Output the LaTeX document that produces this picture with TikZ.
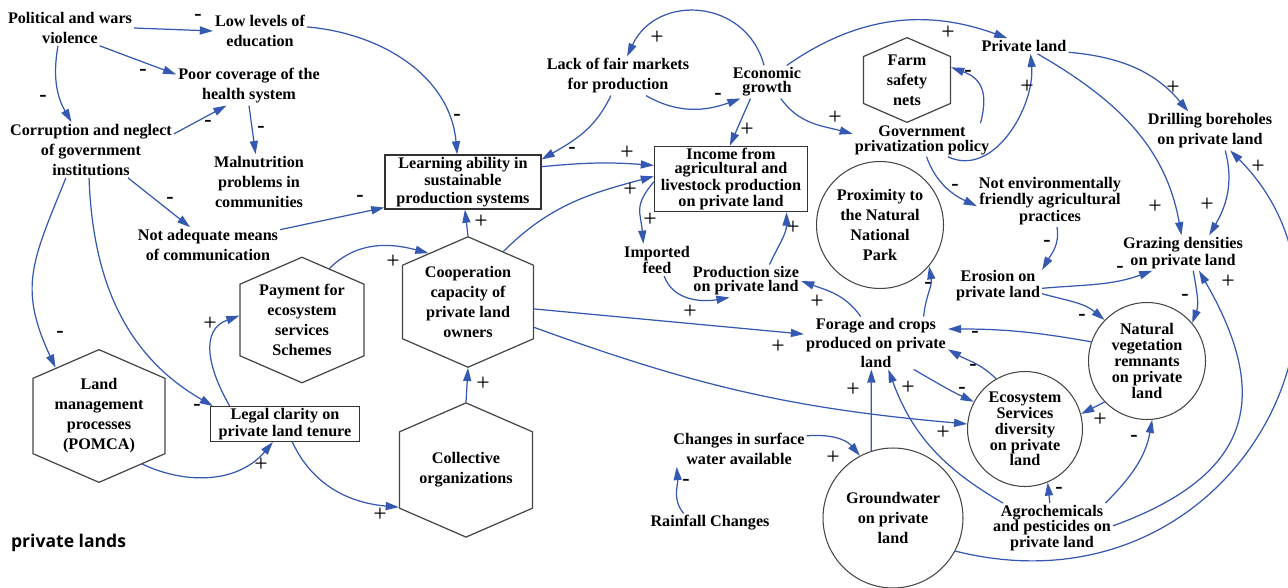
\documentclass[tikz,border=0pt]{standalone}
\usepackage{fontspec}
\setmainfont{Liberation Serif}
\newfontfamily\capfont{Open Sans}
\usetikzlibrary{shapes.geometric,shapes.symbols,arrows.meta}
\definecolor{LinkBlue}{HTML}{3558B0}
\definecolor{ShapeGray}{HTML}{454545}
\tikzset{
  lsp/.style={font=\fontsize{9.2}{#1}\selectfont\bfseries},
  varnode/.style={align=center,inner sep=1pt,lsp=11.4},
  boxnode/.style={varnode,draw=black!80,line width=0.7pt,
    minimum width=3.12cm,minimum height=1.08cm},
  circnode/.style={varnode,circle,draw=ShapeGray,line width=0.6pt,inner sep=0pt},
  hexnode/.style={varnode,signal,signal to=north and south,signal pointer angle=133,
    draw=ShapeGray,line width=0.7pt,inner sep=0pt},
  link/.style={draw=LinkBlue,line width=0.7pt,-{Triangle[length=7.5pt,width=4.6pt]}},
  possign/.style={font=\fontsize{13.5}{12}\selectfont,inner sep=0pt},
  negsign/.style={font=\fontsize{12.5}{12}\selectfont\bfseries,inner sep=0pt},
}
\begin{document}
\begin{tikzpicture}[x=0.02cm,y=-0.02cm]
  \useasboundingbox (0,0) rectangle (1288,588);
  \node[varnode] (pol) at (70,28) {Political and wars\\violence};
  \node[varnode] (lowedu) at (260,31) {Low levels of\\education};
  \node[varnode] (poorhealth) at (249,86) {Poor coverage of the\\health system};
  \node[varnode] (corrupt) at (91,150) {Corruption and neglect\\of government\\institutions};
  \node[varnode] (malnut) at (259,182) {Malnutrition\\problems in\\communities};
  \node[varnode] (notadeq) at (208,245) {Not adequate means\\of communication};
  \node[boxnode,lsp=10] (learn) at (463,182) {Learning ability in\\sustainable\\production systems};
  \node[varnode] (lackfair) at (618,76) {Lack of fair markets\\for production};
  \node[varnode,lsp=8] (econ) at (767,82) {Economic\\growth};
  \node[boxnode,lsp=8.1,minimum width=3.06cm,minimum height=1.18cm] (income) at (731,179) {Income from\\agricultural and\\livestock production\\on private land};
  \node[hexnode,inner ysep=-2.8pt,minimum width=1.74cm,minimum height=1.29cm] (farm) at (907,80) {Farm\\safety\\nets};
  \node[varnode] (privland) at (1024,46) {Private land};
  \node[varnode,lsp=8.6] (govpriv) at (922,140) {Government\\privatization policy};
  \node[varnode] (drilling) at (1210,131) {Drilling boreholes\\on private land};
  \node[circnode,minimum size=2.54cm] (proximity) at (880,225) {Proximity to\\the Natural\\National\\Park};
  \node[varnode,lsp=8] (notenv) at (1050,201) {Not environmentally\\friendly agricultural\\practices};
  \node[varnode,lsp=8] (grazing) at (1183,253) {Grazing densities\\on private land};
  \node[varnode,lsp=9] (erosion) at (998,286) {Erosion on\\private land};
  \node[varnode,lsp=9.6] (imported) at (657,260) {Imported\\feed};
  \node[varnode,lsp=8] (prodsize) at (746,281) {Production size\\on private land};
  \node[varnode,lsp=10.6] (forage) at (876,343) {Forage and crops\\produced on private\\land};
  \node[circnode,lsp=9,minimum size=2.34cm] (natveg) at (1147,361) {Natural\\vegetation\\remnants\\on private\\land};
  \node[circnode,lsp=9,minimum size=2.3cm] (ecosys) at (1025,429) {Ecosystem\\Services\\diversity\\on private\\land};
  \node[circnode,minimum size=2.8cm] (groundwater) at (893,518) {Groundwater\\on private\\land};
  \node[varnode,lsp=8.8] (agro) at (1052,528) {Agrochemicals\\and pesticides on\\private land};
  \node[varnode] (changes) at (739,449) {Changes in surface\\water available};
  \node[varnode] (rainfall) at (710,523) {Rainfall Changes};
  \node[hexnode,minimum width=2.66cm,minimum height=2.34cm] (collective) at (466,470) {Collective\\organizations};
  \node[hexnode,minimum width=2.62cm,minimum height=2.22cm] (coop) at (468,302) {Cooperation\\capacity of\\private land\\owners};
  \node[hexnode,minimum width=2.48cm,minimum height=2.12cm] (payment) at (302,320) {Payment for\\ecosystem\\services\\Schemes};
  \node[hexnode,minimum width=2.64cm,minimum height=2.28cm] (landmgmt) at (99,416) {Land\\management\\processes\\(POMCA)};
  \node[boxnode,lsp=8.4,minimum width=2.98cm,minimum height=0.68cm] (legal) at (285,424) {Legal clarity on\\private land tenure};
  \node[font=\capfont\fontsize{10}{12}\selectfont\bfseries,anchor=west,inner sep=1pt] (caption) at (9,543) {private lands};
  \draw[link] (pol.east) -- (lowedu.west) node[negsign] at (198,17) {-};
  \draw[link] (pol.-31) -- (poorhealth.171) node[negsign] at (143,72) {-};
  \draw[link] (pol.-124) to[out=-100,in=120] (corrupt.125) node[negsign] at (43,98) {-};
  \draw[link] (corrupt.11) -- (poorhealth.-139) node[negsign] at (208,123) {-};
  \draw[link] (poorhealth.-90) -- (malnut.97) node[negsign] at (261,129) {-};
  \draw[link] (lowedu.5) to[out=-5,in=95] (learn.102) node[negsign] at (457,117) {-};
  \draw[link] (corrupt.-37) -- (notadeq.135) node[negsign] at (170,200) {-};
  \draw[link] (notadeq.12) -- (learn.-162) node[negsign] at (360,198) {-};
  \draw[link] (corrupt.-132) to[out=-112,in=115,looseness=1.2] (landmgmt.132) node[negsign] at (60,334) {-};
  \draw[link] (corrupt.-94) to[out=-88,in=150] (legal.166) node[negsign] at (197,407) {-};
  \draw[link] (legal.162) to[out=120,in=-160,looseness=1.2] (payment.176) node[possign] at (210,324) {+};
  \draw[link] (landmgmt.-48) to[out=-25,in=-130] (legal.-124) node[possign] at (261,465) {+};
  \draw[link] (legal.-68) to[out=-65,in=175] (collective.-151) node[possign] at (380,515) {+};
  \draw[link] (payment.62) to[out=45,in=165] (coop.129) node[possign] at (393,262) {+};
  \draw[link] (coop.north) -- (learn.-86) node[possign] at (481,222) {+};
  \draw[link] (collective.north) -- (coop.south) node[possign] at (483,384) {+};
  \draw[link] (coop.55) to[out=45,in=-165] (income.178) node[possign] at (630,190) {+};
  \draw[link] (learn.11) to[bend left=5] (income.170) node[possign] at (627,153) {+};
  \draw[link] (lackfair.-110) to[out=-115,in=30] (learn.16) node[negsign] at (572,150) {-};
  \draw[link] (lackfair.-35) to[out=-30,in=-160] (econ.-148) node[negsign] at (718,96) {-};
  \draw[link] (econ.100) to[out=105,in=65,looseness=1.3] (lackfair.65) node[possign] at (657,38) {+};
  \draw[link] (econ.-135) -- (income.92) node[possign] at (747,130) {+};
  \draw[link] (econ.-50) to[out=-55,in=165] (govpriv.175) node[possign] at (835,118) {+};
  \draw[link] (econ.40) to[out=35,in=160] (privland.155) node[possign] at (948,33) {+};
  \draw[link] (govpriv.16) to[out=75,in=-20,looseness=1.3] (farm.16) node[negsign] at (968,73) {-};
  \draw[link] (govpriv.-33) to[out=-25,in=-85] (privland.-50) node[possign] at (1027,87) {+};
  \draw[link] (govpriv.-75) to[out=-70,in=155] (notenv.-176) node[negsign] at (955,187) {-};
  \draw[link] (privland.-8) to[out=-5,in=130] (drilling.138) node[possign] at (1173,88) {+};
  \draw[link] (privland.-30) to[out=-30,in=100] (grazing.95) node[possign] at (1155,207) {+};
  \draw[link] (drilling.-52) to[out=-75,in=60] (grazing.34) node[possign] at (1207,205) {+};
  \draw[link] (notenv.-75) to[out=-80,in=60] (erosion.20) node[negsign] at (1047,243) {-};
  \draw[link] (erosion.-3) to[out=5,in=-160] (grazing.-150) node[negsign] at (1120,269) {-};
  \draw[link] (erosion.-10) to[out=-15,in=140] (natveg.136) node[negsign] at (1082,317) {-};
  \draw[link] (grazing.-60) to[out=-80,in=70] (natveg.40) node[negsign] at (1185,297) {-};
  \draw[link] (agro.2) to[out=20,in=-60,looseness=1.4] (grazing.-48) node[possign] at (1228,282) {+};
  \draw[link] (groundwater.-28) to[out=-14,in=-45,out looseness=1.49,in looseness=1.19] (drilling.-44) node[possign] at (1258,167) {+};
  \draw[link] (natveg.-136) -- (ecosys.15) node[possign] at (1100,420) {+};
  \draw[link] (natveg.161) to[out=170,in=0] (forage.11) node[negsign] at (975,334) {-};
  \draw[link] (ecosys.120) to[out=135,in=-30] (forage.-5) node[negsign] at (973,367) {-};
  \draw[link] (forage.-35) to[out=-30,in=155] (ecosys.152) node[negsign] at (962,390) {-};
  \draw[link] (coop.-21) to[out=-20,in=175] (ecosys.175) node[possign] at (943,433) {+};
  \draw[link] (coop.-6) -- (forage.173) node[possign] at (778,347) {+};
  \draw[link] (forage.120) to[out=125,in=-20] (prodsize.east) node[possign] at (817,302) {+};
  \draw[link] (forage.29) to[out=85,in=-80] (proximity.-40) node[negsign] at (928,285) {-};
  \draw[link] (prodsize.35) to[out=65,in=-90] (income.-31) node[possign] at (793,228) {+};
  \draw[link] (imported.-66) to[out=-70,in=-170] (prodsize.-135) node[possign] at (690,312) {+};
  \draw[link] (groundwater.108) -- (forage.-100) node[possign] at (853,390) {+};
  \draw[link] (agro.153) to[out=150,in=-70] (forage.-65) node[possign] at (908,388) {+};
  \draw[link] (agro.95) -- (ecosys.-67) node[negsign] at (1059,490) {-};
  \draw[link] (agro.25) to[out=45,in=-100] (natveg.-85) node[negsign] at (1134,438) {-};
  \draw[link] (changes.11) to[out=5,in=130] (groundwater.118) node[possign] at (833,458) {+};
  \draw[link] (rainfall.160) to[out=130,in=-85] (changes.-164) node[negsign] at (686,482) {-};
  \draw[link] (income.-178) to[out=-130,in=95,looseness=1.3] (imported.130) node[possign] at (650,220) {+};
\end{tikzpicture}
\end{document}
